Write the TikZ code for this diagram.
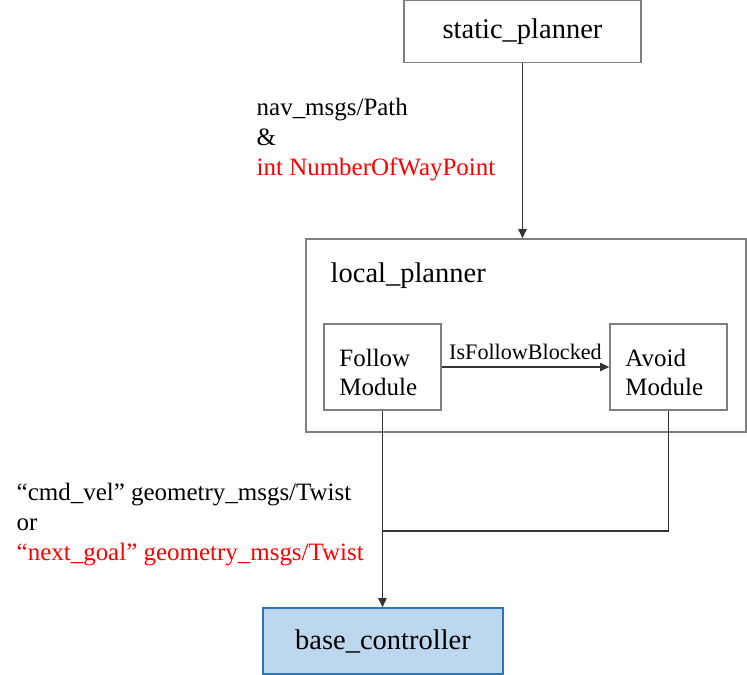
\documentclass[tikz,border=0pt]{standalone}
\usepackage{fontspec}
\setmainfont{Liberation Serif}
\usepackage{xcolor}
\definecolor{boxgray}{RGB}{127,127,127}
\definecolor{basefill}{RGB}{189,215,238}
\definecolor{baseline}{RGB}{46,117,182}
\usetikzlibrary{positioning, arrows.meta, calc}

\begin{document}
\begin{tikzpicture}[x=0.01cm, y=-0.01cm]
    % Define styles
    \tikzstyle{planner} = [rectangle, draw=boxgray, line width=0.45pt,
        font=\fontsize{8.1}{9.5}\selectfont, minimum width=2.37cm, minimum height=0.62cm]
    \tikzstyle{module} = [rectangle, draw=boxgray, line width=0.45pt, align=left,
        text width=0.86cm, text height=8pt, font=\fontsize{7.1}{8.5}\selectfont,
        minimum width=1.17cm, minimum height=0.86cm]
    \tikzstyle{msg} = [align=left, inner sep=0pt, font=\fontsize{7.1}{8.6}\selectfont]
    \tikzstyle{line} = [draw=black!80, line width=0.35pt,
        -{Triangle[length=2.6pt, width=2.4pt]}]

    \useasboundingbox (0,0) rectangle (747,675);

    % Place nodes
    \node [planner] (static) at (522.5,31.5) {static\_planner};

    \node [rectangle, draw=boxgray, line width=0.45pt,
        minimum width=4.4cm, minimum height=1.93cm] (local) at (526,335.5) {};
    \node [anchor=north west, inner sep=0pt, font=\fontsize{8.1}{9.5}\selectfont]
        at (330,262) {local\_planner};

    \node [module] (follow) at (382.5,367) {Follow\\Module};
    \node [module] (avoid) at (668.5,367) {Avoid\\Module};

    \node [planner, fill=basefill, draw=baseline, minimum width=2.4cm,
        minimum height=0.66cm] (base) at (383,641) {base\_controller};

    % Messages
    \node [msg, anchor=north west] (pathmsg) at (256,97)
        {nav\_msgs/Path\\\&\\\textcolor{red}{int NumberOfWayPoint}};
    \node [msg, anchor=north west] (twistmsg) at (16,482)
        {“cmd\_vel” geometry\_msgs/Twist\\or\\\textcolor{red}{“next\_goal” geometry\_msgs/Twist}};

    % Draw edges
    \path [line] (static.south) -- (static.south |- local.north);
    \path [line] (follow) -- node [above, inner sep=2pt,
        font=\fontsize{6.3}{7.5}\selectfont] {IsFollowBlocked} (avoid);
    \path [line] (follow.south) -- (follow.south |- base.north);

    \coordinate (join) at (382.5,531);
    \draw [draw=black!80, line width=0.35pt] (avoid.south) |- (join);
\end{tikzpicture}
\end{document}
